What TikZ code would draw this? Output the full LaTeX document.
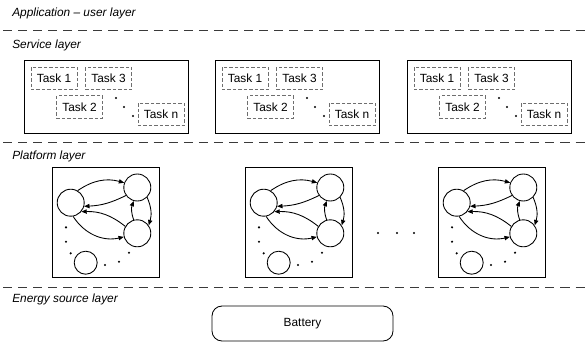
\documentclass[tikz,border=0pt]{standalone}
\usepackage{fontspec}
\setmainfont{Liberation Sans}
\usepackage{tikz}
\usetikzlibrary{arrows.meta,positioning}
\definecolor{layerline}{HTML}{3A3A3A}
\definecolor{taskgray}{HTML}{6E6E6E}
\tikzstyle{layerlabel} = [font=\fontsize{8.9}{10}\selectfont\itshape, anchor=west, inner sep=0pt]
\tikzstyle{layersep} = [layerline, line width=0.7pt, dash pattern=on 6.8pt off 4.5pt]
\tikzstyle{task} = [draw=taskgray, line width=0.6pt, dash pattern=on 2.5pt off 1.6pt, minimum width=34.5pt, minimum height=17pt, inner sep=0pt, font=\fontsize{8.9}{10}\selectfont]
\tikzstyle{svcbox} = [draw, line width=0.65pt, minimum width=123pt, minimum height=54.75pt]
\tikzstyle{platbox} = [draw, line width=0.65pt, minimum width=80.25pt, minimum height=82.5pt]
\tikzstyle{proc} = [draw, circle, line width=0.65pt, minimum size=20.25pt, inner sep=0pt]
\tikzstyle{arrow} = [-{Triangle[length=4pt,width=3.2pt]}, line width=0.65pt]

\begin{document}
\begin{tikzpicture}[x=0.75pt, y=-0.75pt]
\useasboundingbox (0,0) rectangle (588,343);

\node[layerlabel] (app) at (12,13) {Application – user layer};
\node[layerlabel] (svc) at (12,45) {Service layer};
\node[layerlabel] (plat) at (12,156) {Platform layer};
\node[layerlabel] (energy) at (12,299) {Energy source layer};
\foreach \y in {30,142,287}{
  \draw[layersep] (3,\y) -- (588,\y);
}

\foreach \i/\dx in {1/0,2/191,3/383}{
  \node[svcbox] (svc\i) at (24+\dx+82,96.5) {};
  \node[task] (t\i a) at (24+\dx+30,78.5) {Task 1};
  \node[task] (t\i c) at (24+\dx+84.5,78.5) {Task 3};
  \node[task] (t\i b) at (24+\dx+55.5,107) {Task 2};
  \node[task] (t\i n) at (24+\dx+137,114.5) {Task n};
  \foreach \px/\py in {92/98,100/107,109/116}{
    \fill (24+\dx+\px,\py) circle (0.9pt);
  }
}

\foreach \i/\dx in {1/0,2/193,3/386}{
  \node[platbox] (plat\i) at (52+\dx+53.5,222) {};
  \node[proc] (pa\i) at (52+\dx+18.7,202.7) {};
  \node[proc] (pb\i) at (52+\dx+85.3,187.5) {};
  \node[proc] (pc\i) at (52+\dx+85.3,233.3) {};
  \node[proc, minimum size=17.25pt] (pd\i) at (52+\dx+33.7,262.7) {};
  \draw[arrow] (pa\i.60) to[bend left=25] (pb\i.160);
  \draw[arrow] (pb\i.215) to[bend left=12] (pa\i.-15);
  \draw[arrow] (pc\i.150) to[bend right=20] (pa\i.-40);
  \draw[arrow] (pa\i.-80) to[bend right=35] (pc\i.195);
  \draw[arrow] (pc\i.105) to[bend left=20] (pb\i.255);
  \draw[arrow] (pb\i.-45) to[bend left=20] (pc\i.35);
  \foreach \px/\py in {14/227.3,14/241.7,18.7/253.3,53/265,67/261.7,77/252.7}{
    \fill (52+\dx+\px,\py) circle (0.9pt);
  }
}
\foreach \x in {378,397,414}{
  \fill (\x,233) circle (0.9pt);
}

\node[draw, line width=0.65pt, rounded corners=7.5pt, minimum width=135.75pt, minimum height=26.25pt, font=\fontsize{8.9}{10}\selectfont] (battery) at (302.5,323.5) {Battery};
\end{tikzpicture}
\end{document}
